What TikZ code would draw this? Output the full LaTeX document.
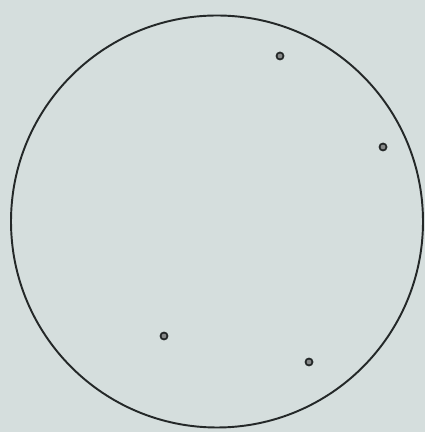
\documentclass[tikz,border=0pt]{standalone}
\usetikzlibrary{positioning}
\definecolor{PapelGris}{RGB}{213,222,221}
\definecolor{Tinta}{RGB}{36,40,40}
\tikzset{
  campo/.style={draw=Tinta, line width=1.1pt},
  punto/.style={circle, draw=Tinta, line width=1pt, fill=Tinta!55, minimum size=0.14cm, inner sep=0pt},
}
\begin{document}
\begin{tikzpicture}
    \fill[PapelGris] (0,0) rectangle (8.5,8.64);
    \useasboundingbox (0,0) rectangle (8.5,8.64);
    \draw[campo] (4.34,4.21) circle (4.12cm);
    \node[punto] (p1) at (5.60,7.52) {};
    \node[punto] (p2) at (7.66,5.70) {};
    \node[punto] (p3) at (3.28,1.92) {};
    \node[punto] (p4) at (6.18,1.40) {};
  \end{tikzpicture}
\end{document}
